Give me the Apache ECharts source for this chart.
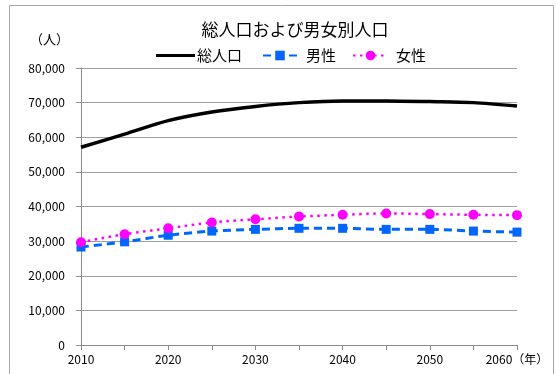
<!DOCTYPE html>
<html>
<head>
<meta charset="utf-8">
<script src="https://cdn.jsdelivr.net/npm/echarts@6/dist/echarts.min.js"></script>
<style>
html,body{margin:0;padding:0;background:#fff;}
#c{width:556px;height:374px;}
</style>
</head>
<body>
<div id="c"></div>
<script>
const years = ['2010','2015','2020','2025','2030','2035','2040','2045','2050','2055','2060'];
const totalPop = [57100, 60900, 64800, 67300, 68900, 70000, 70500, 70500, 70300, 70000, 69000];
const malePop = [28300, 29800, 31700, 32900, 33400, 33700, 33700, 33400, 33400, 32900, 32600];
const femalePop = [29700, 32000, 33700, 35400, 36300, 37100, 37600, 38000, 37800, 37600, 37500];
const seriesNames = ['総人口', '男性', '女性'];
const titleText = '総人口および男女別人口';
const yUnit = '（人）';
const xUnit = '（年）';

const FONT = '"Noto Sans CJK JP", "Noto Sans", sans-serif';
const legendText = {fontSize: 15, color: '#000', fontFamily: FONT};
function legendAt(name, left, width, textPad, icon) {
  const item = icon ? {name: name, icon: icon} : {name: name};
  return {
    left: left, top: 48, padding: 0,
    itemWidth: width, itemHeight: 12,
    textStyle: Object.assign({}, legendText, {padding: [0, 0, 0, textPad]}),
    data: [item]
  };
}
const chart = echarts.init(document.getElementById('c'), null, {renderer: 'canvas'});
chart.setOption({
  animation: false,
  backgroundColor: '#fff',
  textStyle: {fontFamily: FONT},
  title: {
    text: titleText, left: 290, top: 16, textAlign: 'center',
    textStyle: {fontSize: 17, fontWeight: 'normal', color: '#000', fontFamily: FONT}
  },
  graphic: [
    {type: 'rect', shape: {x: 9.5, y: 5.5, width: 544, height: 380}, style: {fill: null, stroke: '#a6a6a6', lineWidth: 1}, silent: true},
    {type: 'text', left: 30, top: 33, style: {text: yUnit, fill: '#000', font: '13px ' + FONT}}
  ],
  legend: [
    legendAt(seriesNames[0], 156, 39, -3, 'path://M0,0 M0,4.5 L40,4.5 L40,7.5 L0,7.5 Z M40,12'),
    legendAt(seriesNames[1], 262, 34, 4),
    legendAt(seriesNames[2], 352, 35, 3)
  ],
  grid: {left: 81, right: 39, top: 68, bottom: 29, containLabel: false},
  xAxis: {
    type: 'category', data: years, boundaryGap: false,
    axisLine: {lineStyle: {color: '#8c8c8c', width: 1}},
    axisTick: {show: true, interval: 0, length: 5, lineStyle: {color: '#8c8c8c'}},
    axisLabel: {
      interval: 1, color: '#000', fontSize: 12, margin: 8, fontFamily: FONT,
      formatter: function (v, i) { return i === years.length - 1 ? v + xUnit : v; }
    },
    splitLine: {show: false}
  },
  yAxis: {
    type: 'value', min: 0, max: 80000, interval: 10000,
    axisLine: {show: true, lineStyle: {color: '#8c8c8c', width: 1}},
    axisTick: {show: true, length: 5, lineStyle: {color: '#8c8c8c'}},
    axisLabel: {
      color: '#000', fontSize: 12, margin: 16, fontFamily: FONT,
      formatter: function (v) { return v.toLocaleString('en-US'); }
    },
    splitLine: {show: true, lineStyle: {color: '#a0a0a0', width: 1}}
  },
  series: [
    {
      name: seriesNames[0], type: 'line', data: totalPop, smooth: 0.3,
      showSymbol: false, symbol: 'none',
      lineStyle: {color: '#000', width: 3.5, type: 'solid'},
      itemStyle: {color: '#000'}
    },
    {
      name: seriesNames[1], type: 'line', data: malePop, smooth: 0.3,
      symbol: 'rect', symbolSize: 9,
      lineStyle: {color: '#0066ff', width: 3, type: [8, 5]},
      itemStyle: {color: '#0066ff'}
    },
    {
      name: seriesNames[2], type: 'line', data: femalePop, smooth: 0.3,
      symbol: 'circle', symbolSize: 10,
      lineStyle: {color: '#ff00ff', width: 2.5, type: [2.5, 4.5]},
      itemStyle: {color: '#ff00ff'}
    }
  ]
});
</script>
</body>
</html>
